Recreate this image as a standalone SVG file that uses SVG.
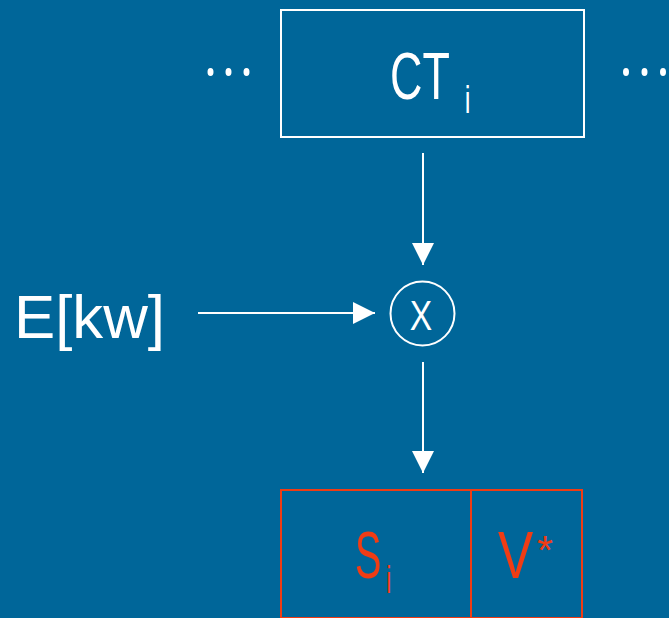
<svg xmlns="http://www.w3.org/2000/svg" width="669" height="618" viewBox="0 0 669 618">
<style>
.t{font-family:"Liberation Sans",Arial,sans-serif;}
.w{fill:#ffffff;}
.r{fill:#f03c14;}
.box{fill:none;stroke:#ffffff;stroke-width:2;}
.rbox{fill:none;stroke:#f03c14;stroke-width:2;}
.ln{stroke:#ffffff;stroke-width:2;fill:none;}
</style>
<defs>
<marker id="ah" markerWidth="22" markerHeight="22" viewBox="0 0 22 22" refX="22" refY="11" orient="auto" markerUnits="userSpaceOnUse">
<path d="M0,0 L22,11 L0,22 Z" fill="#ffffff"/>
</marker>
</defs>
<rect width="669" height="618" fill="#006699"/>
<g id="dots-left" class="w">
<ellipse cx="210.5" cy="72" rx="3" ry="4"/><ellipse cx="228.5" cy="72" rx="3" ry="4"/><ellipse cx="246.5" cy="72" rx="3" ry="4"/>
</g>
<g id="dots-right" class="w">
<ellipse cx="626" cy="72" rx="3" ry="4"/><ellipse cx="644.5" cy="72" rx="3" ry="4"/><ellipse cx="663" cy="72" rx="3" ry="4"/>
</g>
<g id="ct">
<rect class="box" x="281" y="10" width="303" height="127"/>
<text class="t w" transform="translate(390,99) scale(0.68,1)" font-size="66">CT<tspan dx="22" dy="14" font-size="38">i</tspan></text>
</g>
<g id="ekw">
<text class="t w" x="14" y="338" font-size="62" textLength="151" lengthAdjust="spacingAndGlyphs">E[kw]</text>
</g>
<g id="mult">
<circle cx="422.5" cy="313.5" r="32" class="ln"/>
<text class="t w" transform="translate(421,330) scale(0.8,1)" font-size="42" text-anchor="middle">X</text>
</g>
<g id="out">
<rect class="rbox" x="281" y="490" width="190" height="128"/>
<rect class="rbox" x="471" y="490" width="111" height="128"/>
<text class="t r" transform="translate(355,578) scale(0.6,1)" font-size="66">S<tspan dx="8" dy="15" font-size="38">i</tspan></text>
<text class="t r" transform="translate(498,578) scale(0.8,1)" font-size="66">V</text>
<text class="t r" x="537" y="564" font-size="41">*</text>
</g>
<g id="connectors">
<line class="ln" x1="423" y1="153" x2="423" y2="265" marker-end="url(#ah)"/>
<line class="ln" x1="198" y1="313" x2="375" y2="313" marker-end="url(#ah)"/>
<line class="ln" x1="423" y1="362" x2="423" y2="473" marker-end="url(#ah)"/>
</g>
</svg>
